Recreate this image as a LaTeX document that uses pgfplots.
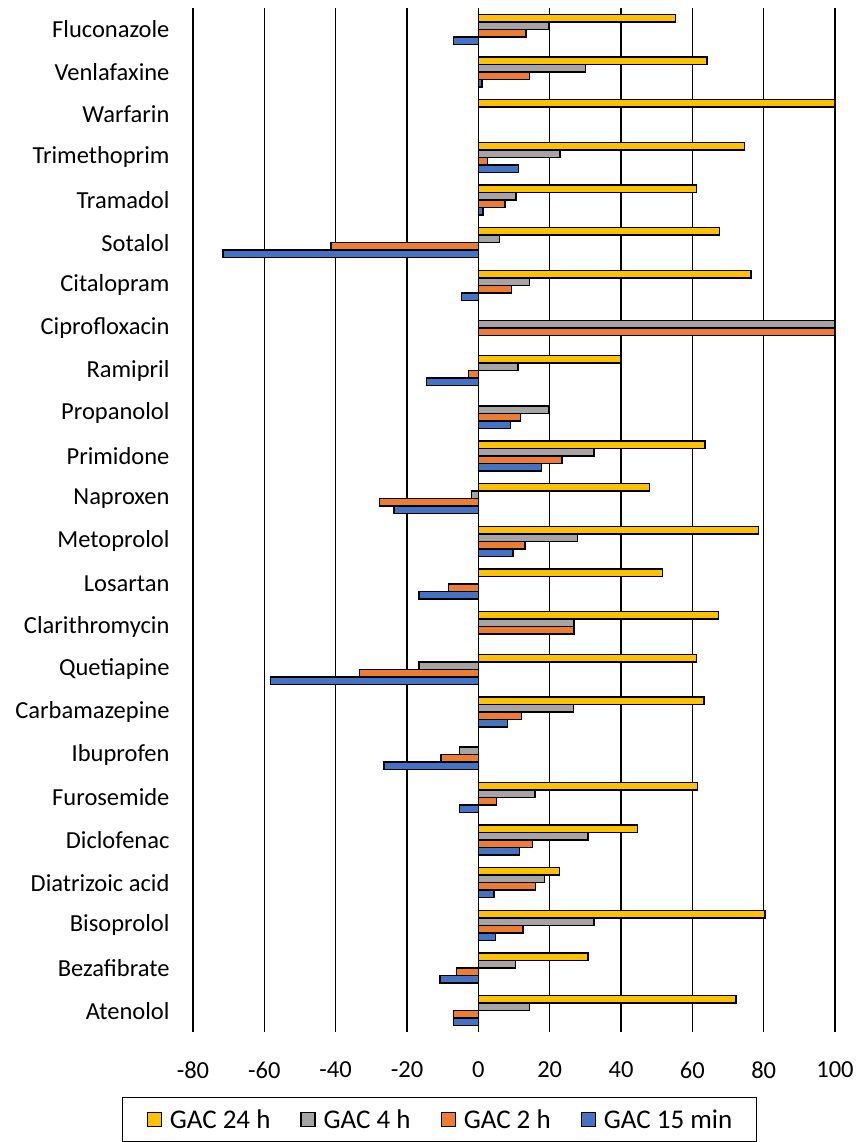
\documentclass[border=0pt]{standalone}
\usepackage{pgfplots}
\pgfplotsset{compat=1.18}
\usepackage{pgfplotstable}
\usepackage{fontspec}
\setmainfont{Carlito}

\definecolor{gacA}{HTML}{FFC000}
\definecolor{gacB}{HTML}{A5A5A5}
\definecolor{gacC}{HTML}{ED7D31}
\definecolor{gacD}{HTML}{4472C4}

% removal per compound; y = 23 is the top row, nan = no bar
\pgfplotstableread{
y  h24   h4     h2     m15
23 55.3  19.7   13.4   -6.9
22 64.1  30.0   14.3   1.0
21 100   nan    nan    nan
20 74.6  22.9   2.6    11.2
19 61.1  10.6   7.5    1.3
18 67.6  6.0    -41.3  -71.6
17 76.4  14.3   9.3    -4.7
16 nan   100    100    nan
15 39.9  11.1   -2.7   -14.5
14 nan   19.6   11.9   9.1
13 63.6  32.4   23.5   17.7
12 48.0  -1.9   -27.7  -23.7
11 78.6  27.8   13.1   9.7
10 51.6  nan    -8.4   -16.6
9  67.3  26.8   26.8   nan
8  61.1  -16.6  -33.4  -58.3
7  63.3  26.6   12.1   8.1
6  nan   -5.2   -10.5  -26.4
5  61.4  15.9   5.1    -5.2
4  44.6  30.8   15.2   11.5
3  22.7  18.6   16.1   4.4
2  80.4  32.4   12.5   4.8
1  30.8  10.5   -6.1   -10.7
0  72.2  14.3   -7.0   -7.0
}\gacdata

\begin{document}
\begin{tikzpicture}
% page frame: the axis box has its lower left corner at the origin
\useasboundingbox (-193pt,-110pt) rectangle (665pt,1032pt);
\begin{axis}[
  name=ax,
  at={(0pt,0pt)}, anchor=south west,
  scale only axis,
  width=642pt, height=1024pt,
  xmin=-80, xmax=100, ymin=-0.5, ymax=23.5,
  xtick={-80,-60,...,100},
  xticklabels={-80,-60,-40,-20,0,20,40,60,80,100},
  ytick={0,...,23},
  yticklabels={Atenolol,Bezafibrate,Bisoprolol,Diatrizoic acid,Diclofenac,Furosemide,Ibuprofen,Carbamazepine,Quetiapine,Clarithromycin,Losartan,Metoprolol,Naproxen,Primidone,Propanolol,Ramipril,Ciprofloxacin,Citalopram,Sotalol,Tramadol,Trimethoprim,Warfarin,Venlafaxine,Fluconazole},
  axis line style={draw=none},
  major tick length=0pt,
  xmajorgrids,
  major grid style={black, line width=1.5pt},
  tick label style={font=\fontsize{24.5}{28}\selectfont},
  yticklabel style={xshift=-20pt},
  xticklabel style={yshift=-26pt},
  xbar, bar width=7.5pt,
  legend columns=4,
  legend style={
    at={(-0.1106,-0.0635)}, anchor=north west,
    draw=black, line width=1.3pt,
    font=\fontsize{27}{31}\selectfont,
    inner xsep=24pt, inner ysep=10pt,
    nodes={inner xsep=0pt},
    /tikz/every odd column/.append style={column sep=8pt},
    /tikz/every even column/.append style={column sep=30pt},
  },
  legend image code/.code={%
    \draw[#1, draw=black, line width=1.2pt] (0pt,-7pt) rectangle (14pt,7pt);},
]
\addplot[fill=gacA, draw=black, line width=1.4pt, bar shift=11.25pt] table[x=h24, y=y] {\gacdata};
\addplot[fill=gacB, draw=black, line width=1.4pt, bar shift=3.75pt] table[x=h4, y=y] {\gacdata};
\addplot[fill=gacC, draw=black, line width=1.4pt, bar shift=-3.75pt] table[x=h2, y=y] {\gacdata};
\addplot[fill=gacD, draw=black, line width=1.4pt, bar shift=-11.25pt] table[x=m15, y=y] {\gacdata};
\legend{GAC 24 h, GAC 4 h, GAC 2 h, GAC 15 min}
\end{axis}
\end{tikzpicture}
\end{document}
